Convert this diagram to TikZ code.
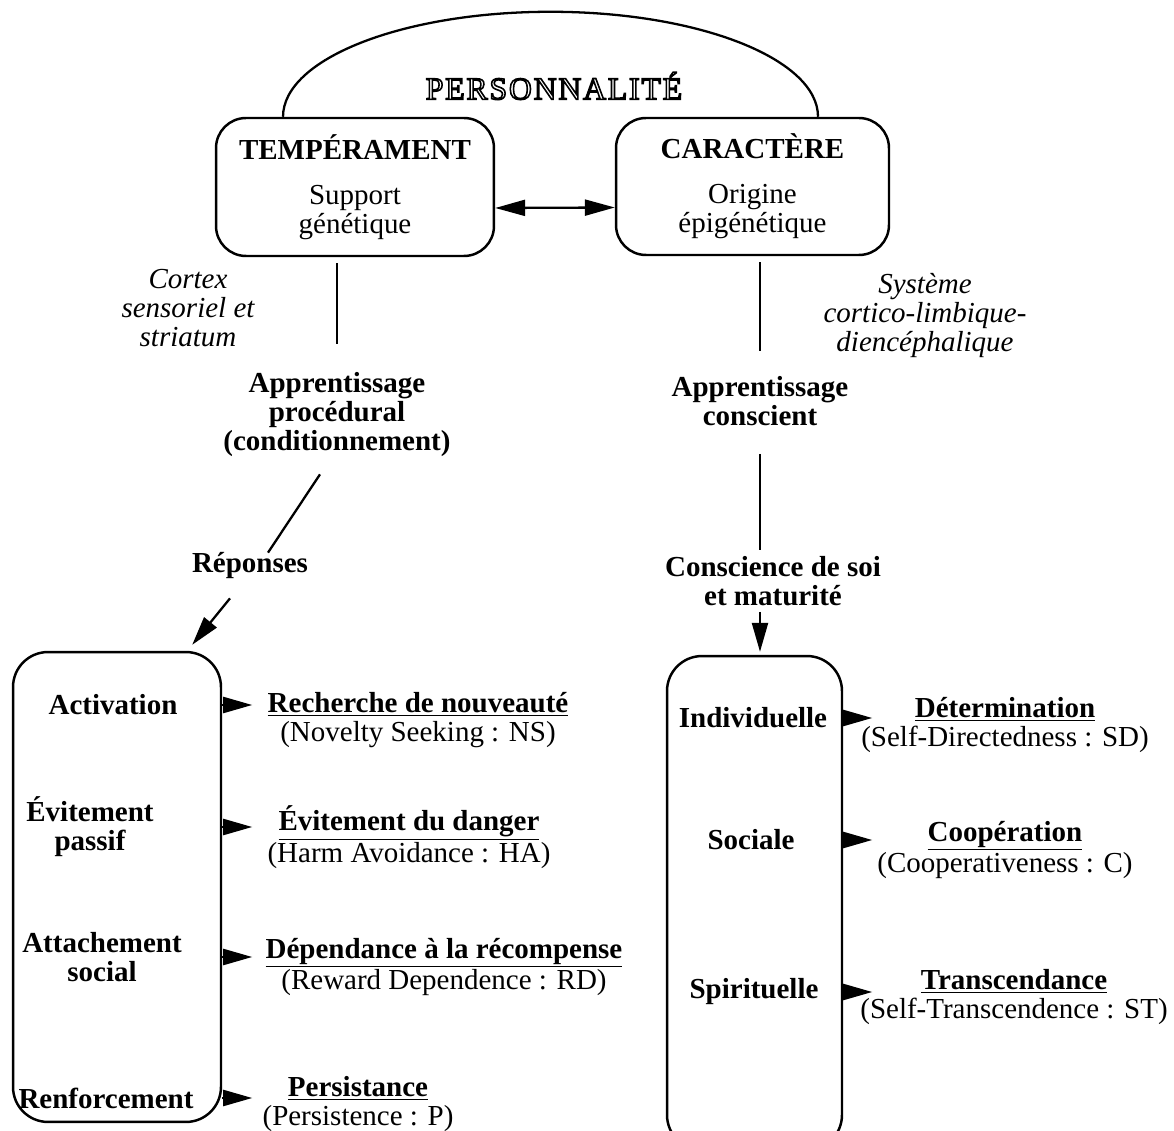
\documentclass[tikz,border=0pt]{standalone}
\usepackage{fontspec}
\setmainfont{Liberation Serif}
\usetikzlibrary{arrows,arrows.meta,positioning,calc}
\tikzstyle{BOX_TOP} = [rectangle, draw, line width=1.4pt, rounded corners=0.6cm, align=center, minimum width=5.5cm, minimum height=2.75cm]
\tikzstyle{BOX_SIDE} = [rectangle, draw, line width=1.4pt, rounded corners=0.7cm]
\tikzstyle{ARROW} = [thick,->,>=stealth]

\begin{document}
\begin{tikzpicture}[x=0.02cm, y=-0.02cm]
% Define
\tikzstyle{TXT} = [align=center, font=\fontsize{16.5}{16.5}\selectfont]
\tikzstyle{TXT_BOLD} = [align=center, font=\fontsize{16.5}{16.5}\selectfont\bfseries]
\tikzstyle{TXT_IT} = [align=center, font=\fontsize{16.5}{16.5}\selectfont\itshape]
\tikzstyle{BOX_TOP} = [rectangle, draw, line width=1.4pt, rounded corners=0.6cm, align=center, font=\fontsize{16.5}{16.5}\selectfont]
\tikzstyle{LINE} = [draw, line width=1.3pt]
\tikzstyle{ARROW} = [draw, line width=1.3pt, -{Triangle[length=0.58cm, width=0.32cm]}]
\tikzstyle{ARROW_BOTH} = [draw, line width=1.3pt, {Triangle[length=0.6cm, width=0.32cm]}-{Triangle[length=0.6cm, width=0.32cm]}]
\useasboundingbox (0,0) rectangle (1174,1131);
% Place node
\node [font=\fontsize{18}{18}\selectfont\addfontfeatures{LetterSpace=6}] (PERS) at (554,86) {\special{pdf:literal direct 1 Tr 0.9 w}PERSONNALITÉ\special{pdf:literal direct 0 Tr}};
\node [BOX_TOP, minimum width=5.56cm, minimum height=2.76cm] (TEMP) at (355,187) {\textbf{TEMPÉRAMENT}\\[9pt] Support\\génétique};
\node [BOX_TOP, minimum width=5.46cm, minimum height=2.74cm] (CARA) at (752.5,186.5) {\textbf{CARACTÈRE}\\[9pt] Origine\\épigénétique};

\node [TXT_IT] (CORTEX) at (188,308) {Cortex\\sensoriel et\\striatum};
\node [TXT_IT] (SYST) at (925,316) {Système\\cortico-limbique-\\diencéphalique};
\node [TXT_BOLD] (PROC) at (337,415) {Apprentissage\\procédural\\(conditionnement)};
\node [TXT_BOLD] (APP_CONS) at (760,401) {Apprentissage\\conscient};
\node [TXT_BOLD] (REP) at (250,566) {Réponses};
\node [TXT_BOLD] (CONSC) at (773,581) {Conscience de soi\\et maturité};

\node [BOX_SIDE, minimum width=4.16cm, minimum height=9.4cm] (LEFT) at (117,887) {};
\node [BOX_SIDE, minimum width=3.5cm, minimum height=9.88cm] (RIGHT) at (754.5,903) {};

\node [TXT_BOLD] (ACT) at (113,705) {Activation};
\node [TXT_BOLD] (EVIT) at (90,827) {Évitement\\passif};
\node [TXT_BOLD] (ATTA) at (102,957) {Attachement\\social};
\node [TXT_BOLD] (RENF) at (106,1098) {Renforcement};
\node [TXT_BOLD] (IND) at (753,718) {Individuelle};
\node [TXT_BOLD] (SOC) at (751,840) {Sociale};
\node [TXT_BOLD] (SPIR) at (754,992) {Spirituelle};

\node [TXT] (NS) at (418,720) {\underline{\textbf{Recherche de nouveauté}}\\(Novelty Seeking : NS)};
\node [TXT] (HA) at (409,837) {\underline{\textbf{Évitement du danger}}\\(Harm Avoidance : HA)};
\node [TXT] (RD) at (444,967) {\underline{\textbf{Dépendance à la récompense}}\\(Reward Dependence : RD)};
\node [TXT] (PER) at (358,1104) {\underline{\textbf{Persistance}}\\(Persistence : P)};
\node [TXT] (SD) at (1005,725) {\underline{\textbf{Détermination}}\\(Self-Directedness : SD)};
\node [TXT] (COOP) at (1005,850) {\underline{\textbf{Coopération}}\\(Cooperativeness : C)};
\node [TXT] (ST) at (1014,997) {\underline{\textbf{Transcendance}}\\(Self-Transcendence : ST)};

\coordinate (DIAG_TOP) at ($(PROC.south)+(-17,11)$);
\coordinate (DIAG_END) at ($(REP.north)+(18,6)$);
\coordinate (REP_OUT) at ($(REP.south)+(-20,13)$);
\coordinate (LEFT_IN) at ($(LEFT.north east)+(-30,-6)$);
% LINES and ARROWS
\path [LINE] ([xshift=-1.44cm]TEMP.north) arc [start angle=180, end angle=360, x radius=267.5, y radius=105];
\path [ARROW_BOTH] ([yshift=-0.42cm]TEMP.east) -- ([yshift=-0.42cm]CARA.west);
\path [LINE, shorten <=0.12cm] (TEMP.south -| PROC.north) -- ($(PROC.north)+(0,-23)$);
\path [LINE] (DIAG_TOP) -- (DIAG_END);
\path [ARROW] (REP_OUT) -- (LEFT_IN);
\path [LINE, shorten <=0.12cm] (CARA.south -| APP_CONS.north) -- ($(APP_CONS.north)+(0,-19)$);
\path [LINE] ($(APP_CONS.south)+(0,22)$) -- (APP_CONS.south |- CONSC.north);
\path [ARROW, shorten >=0.06cm] (APP_CONS.south |- CONSC.south) -- (APP_CONS.south |- RIGHT.north);
%
\path [ARROW] (ACT -| LEFT.east) -- ++(30,0);
\path [ARROW] (EVIT -| LEFT.east) -- ++(30,0);
\path [ARROW] (ATTA -| LEFT.east) -- ++(30,0);
\path [ARROW] (RENF -| LEFT.east) -- ++(30,0);
\path [ARROW] (IND -| RIGHT.east) -- ++(29,0);
\path [ARROW] (SOC -| RIGHT.east) -- ++(29,0);
\path [ARROW] (SPIR -| RIGHT.east) -- ++(29,0);
\end{tikzpicture}
\end{document}
